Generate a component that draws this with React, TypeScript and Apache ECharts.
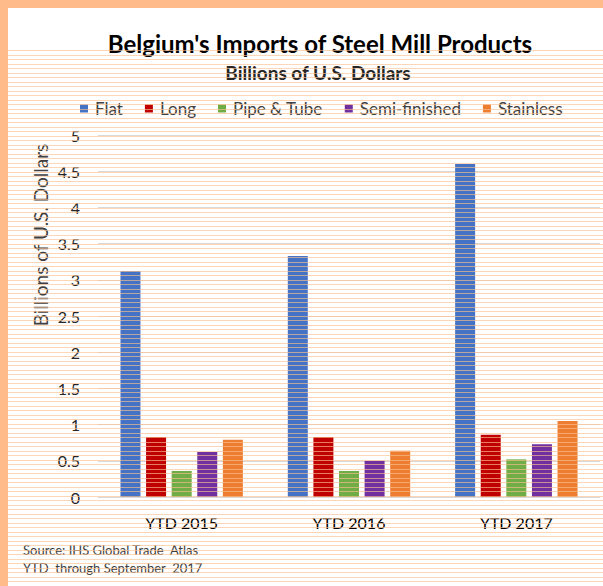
import React, { useEffect, useRef } from "react";
import * as echarts from "echarts";

const categories = ["YTD 2015", "YTD 2016", "YTD 2017"];
const seriesNames = ["Flat", "Long", "Pipe & Tube", "Semi-finished", "Stainless"];
const flat = [3.12, 3.33, 4.6];
const long = [0.83, 0.83, 0.86];
const pipeTube = [0.36, 0.36, 0.52];
const semiFinished = [0.62, 0.5, 0.73];
const stainless = [0.79, 0.64, 1.05];
const colors = ["#4472C4", "#C00000", "#70AD47", "#7030A0", "#ED7D31"];

const FONT = "Lato, 'Open Sans', sans-serif";

export default function App() {
  const ref = useRef<HTMLDivElement>(null);
  useEffect(() => {
    if (!ref.current) return;
    const chart = echarts.init(ref.current, null, { renderer: "svg" });
    const values = [flat, long, pipeTube, semiFinished, stainless];
    const stripes: any[] = [];
    for (let y = 50; y < 586; y += 4.5) {
      stripes.push({
        type: "line",
        shape: { x1: 8, y1: Math.round(y) + 0.5, x2: 603, y2: Math.round(y) + 0.5 },
        style: { stroke: "#FBC08F", lineWidth: 1, opacity: 0.65 },
        silent: true,
        z: 100,
      });
    }
    chart.setOption({
      animation: false,
      backgroundColor: "#ffffff",
      textStyle: { fontFamily: FONT },
      title: [
        {
          text: "Belgium's Imports of Steel Mill Products",
          left: 315,
          textAlign: "center",
          top: 26,
          textStyle: { fontFamily: FONT, fontSize: 24, fontWeight: "bold", color: "#000" },
        },
        {
          text: "Billions of U.S. Dollars",
          left: 313,
          textAlign: "center",
          top: 58,
          textStyle: { fontFamily: FONT, fontSize: 19, fontWeight: "bold", color: "#262626" },
        },
      ],
      legend: {
        data: seriesNames,
        top: 95,
        left: 75,
        width: 540,
        itemWidth: 8,
        itemHeight: 8,
        itemGap: 22,
        icon: "rect",
        textStyle: { fontFamily: FONT, fontSize: 17, color: "#404040", padding: [0, 0, 0, 2] },
      },
      grid: { left: 98, right: 3, top: 135, bottom: 89 },
      xAxis: {
        type: "category",
        data: categories,
        axisLine: { lineStyle: { color: "#D9D9D9" } },
        axisTick: { show: false },
        axisLabel: { color: "#000", fontSize: 16, margin: 17, fontFamily: FONT },
      },
      yAxis: {
        type: "value",
        min: 0,
        max: 5,
        interval: 0.5,
        axisLine: { show: false },
        axisTick: { show: false },
        axisLabel: { color: "#262626", fontSize: 16, margin: 18, fontFamily: FONT },
        splitLine: { lineStyle: { color: "#D9D9D9" } },
      },
      series: seriesNames.map((name, i) => ({
        name,
        type: "bar",
        data: values[i],
        barWidth: 20,
        barGap: "28%",
        itemStyle: { color: colors[i] },
      })),
      graphic: [
        {
          type: "text",
          x: 40,
          y: 235,
          rotation: Math.PI / 2,
          style: {
            text: "Billions of U.S. Dollars",
            font: `19px ${FONT}`,
            fill: "#404040",
            textAlign: "center",
            textVerticalAlign: "middle",
          },
        },
        {
          type: "text",
          left: 23,
          top: 543,
          style: { text: "Source: IHS Global Trade  Atlas", font: `13px ${FONT}`, fill: "#404040" },
        },
        {
          type: "text",
          left: 23,
          top: 561,
          style: { text: "YTD  through September  2017", font: `13px ${FONT}`, fill: "#404040" },
        },
        ...stripes,
        { type: "rect", shape: { x: 0, y: 0, width: 603, height: 8 }, style: { fill: "#FFBC8A" }, z: 200 },
        { type: "rect", shape: { x: 0, y: 0, width: 8, height: 586 }, style: { fill: "#FFBC8A" }, z: 200 },
      ],
    });
    return () => chart.dispose();
  }, []);
  return (
    <div
      ref={ref}
      style={{ position: "fixed", left: 0, top: 0, width: 603, height: 586 }}
    />
  );
}
